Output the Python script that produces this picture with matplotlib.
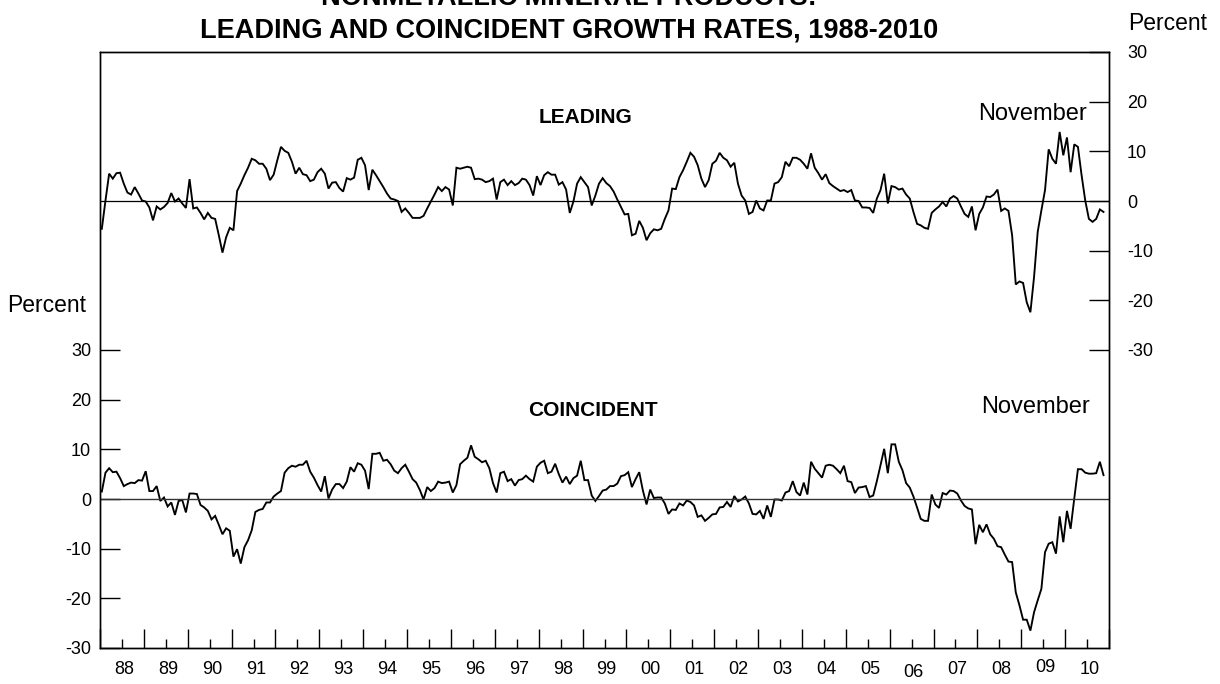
import matplotlib
matplotlib.use("Agg")
import matplotlib.pyplot as plt
import matplotlib.transforms as mtransforms
import numpy as np

plt.rcParams['font.family'] = ['Liberation Sans', 'DejaVu Sans']

# ---- data: monthly growth rates, Jan 1988 - Nov 2010 ----
start_year = 1988
leading = [
    -5.6, 0.1, 5.5, 4.5, 5.6, 5.7, 3.5, 1.7, 1.3, 2.8, 1.5, 0.1,          # 1988
    -0.1, -1.3, -3.9, -1.1, -1.7, -1.2, -0.4, 1.6, -0.1, 0.5, -0.5, -1.4,  # 1989
    4.4, -1.5, -1.3, -2.4, -3.7, -2.4, -3.4, -3.6, -6.9, -10.4, -7.3, -5.4,  # 1990
    -5.9, 2.0, 3.5, 5.2, 6.7, 8.5, 8.2, 7.5, 7.5, 6.5, 4.2, 5.3,          # 1991
    8.2, 10.9, 10.1, 9.7, 7.9, 5.5, 6.7, 5.4, 5.2, 4.0, 4.3, 5.8,         # 1992
    6.5, 5.5, 2.5, 3.7, 3.8, 2.6, 1.9, 4.6, 4.3, 4.7, 8.3, 8.7,           # 1993
    7.2, 2.2, 6.3, 5.2, 4.0, 2.8, 1.5, 0.5, 0.3, 0.0, -2.2, -1.5,         # 1994
    -2.4, -3.4, -3.4, -3.4, -3.0, -1.5, -0.1, 1.3, 2.8, 2.0, 2.8, 2.3,    # 1995
    -0.9, 6.7, 6.5, 6.7, 6.9, 6.7, 4.4, 4.5, 4.3, 3.8, 4.0, 4.5,          # 1996
    0.3, 3.8, 4.3, 3.2, 4.0, 3.2, 3.6, 4.5, 4.3, 3.2, 1.1, 5.0,           # 1997
    3.2, 5.2, 5.8, 5.3, 5.3, 3.3, 3.8, 2.3, -2.4, -0.1, 3.5, 4.8,         # 1998
    3.8, 2.8, -0.9, 1.1, 3.5, 4.6, 3.6, 3.0, 1.9, 0.3, -1.2, -2.7,        # 1999
    -2.6, -6.9, -6.6, -4.0, -5.4, -7.9, -6.5, -5.7, -5.9, -5.6, -3.6, -1.9,  # 2000
    2.5, 2.4, 4.8, 6.2, 7.9, 9.7, 8.9, 7.2, 4.5, 2.8, 4.2, 7.5,           # 2001
    8.1, 9.7, 8.7, 8.2, 6.9, 7.7, 3.5, 1.1, 0.1, -2.6, -2.2, 0.1,         # 2002
    -1.5, -1.9, 0.1, 0.1, 3.5, 3.8, 4.8, 7.9, 7.0, 8.7, 8.7, 8.3,         # 2003
    7.5, 6.5, 9.6, 6.7, 5.6, 4.3, 5.4, 3.6, 3.0, 2.5, 2.0, 2.2,           # 2004
    1.8, 2.2, 0.1, 0.0, -1.3, -1.3, -1.4, -2.4, 0.5, 2.2, 5.5, -0.5,      # 2005
    3.0, 2.8, 2.3, 2.5, 1.3, 0.5, -2.2, -4.6, -4.9, -5.4, -5.6, -2.4,     # 2006
    -1.7, -1.1, -0.2, -1.1, 0.5, 1.0, 0.5, -1.1, -2.6, -3.2, -1.1, -5.9,  # 2007
    -2.6, -1.3, 0.9, 0.8, 1.3, 2.3, -2.0, -1.5, -2.0, -6.9, -16.8, -16.2,  # 2008
    -16.5, -20.4, -22.4, -15.3, -6.2, -1.9, 2.2, 10.4, 8.5, 7.5, 13.9, 9.2,  # 2009
    12.8, 5.8, 11.4, 10.9, 5.2, 0.1, -3.6, -4.2, -3.6, -1.7, -2.2,        # 2010
]
coincident = [
    1.5, 5.3, 6.2, 5.4, 5.5, 4.2, 2.6, 3.0, 3.3, 3.2, 3.8, 3.7,           # 1988
    5.6, 1.6, 1.6, 2.6, -0.4, 0.3, -1.5, -0.7, -3.2, -0.4, -0.2, -2.7,    # 1989
    1.1, 1.1, 1.0, -1.2, -1.7, -2.4, -4.1, -3.4, -5.2, -7.1, -5.9, -6.4,  # 1990
    -11.6, -10.1, -13.0, -9.7, -8.3, -6.3, -2.6, -2.2, -2.0, -0.7, -0.7, 0.5,  # 1991
    1.1, 1.6, 5.3, 6.2, 6.7, 6.5, 6.9, 6.9, 7.7, 5.5, 4.3, 2.8,           # 1992
    1.5, 4.6, 0.1, 1.9, 3.0, 3.0, 2.2, 3.5, 6.4, 5.5, 7.2, 6.9,           # 1993
    5.7, 2.0, 9.1, 9.1, 9.3, 7.7, 7.9, 7.0, 5.7, 5.2, 6.2, 6.9,           # 1994
    5.5, 4.0, 3.3, 1.8, -0.1, 2.4, 1.6, 2.2, 3.5, 3.2, 3.3, 3.5,          # 1995
    1.3, 2.8, 7.0, 7.7, 8.3, 10.8, 8.5, 8.0, 7.4, 7.7, 6.2, 3.2,          # 1996
    1.3, 5.2, 5.5, 3.6, 4.0, 2.7, 3.8, 4.0, 4.7, 4.0, 3.5, 6.5,           # 1997
    7.3, 7.7, 5.2, 5.5, 7.1, 5.0, 3.3, 4.5, 3.0, 4.2, 4.7, 7.7,           # 1998
    3.8, 3.8, 0.7, -0.4, 0.6, 1.7, 1.9, 2.6, 2.6, 3.1, 4.6, 4.8,          # 1999
    5.4, 2.4, 4.0, 5.4, 1.7, -1.1, 1.9, 0.2, 0.3, 0.3, -0.9, -3.0,        # 2000
    -2.1, -2.2, -0.9, -1.3, -0.3, -0.6, -1.3, -3.6, -3.3, -4.4, -3.8, -3.1,  # 2001
    -3.0, -1.7, -1.6, -0.6, -1.6, 0.6, -0.5, -0.1, 0.5, -0.9, -3.0, -3.1,  # 2002
    -2.4, -4.0, -1.3, -3.6, -0.1, -0.1, -0.3, 1.3, 1.6, 3.6, 1.4, 0.7,    # 2003
    3.3, 0.9, 7.5, 6.1, 5.2, 4.3, 6.7, 6.9, 6.7, 6.0, 5.2, 6.7,           # 2004
    3.6, 3.4, 1.2, 2.3, 2.4, 2.6, 0.4, 0.7, 3.6, 6.8, 10.1, 5.2,          # 2005
    11.0, 11.0, 7.5, 5.8, 3.2, 2.3, 0.5, -1.7, -4.0, -4.4, -4.4, 0.9,     # 2006
    -1.1, -1.8, 1.2, 0.9, 1.7, 1.6, 1.1, -0.3, -1.4, -1.9, -2.1, -9.1,    # 2007
    -5.2, -6.7, -5.1, -7.1, -8.0, -9.5, -9.7, -11.2, -12.6, -12.7, -18.8, -21.4,  # 2008
    -24.3, -24.3, -26.5, -22.8, -20.4, -18.1, -10.7, -9.0, -8.7, -11.0, -3.5, -8.7,  # 2009
    -2.4, -6.0, 0.1, 6.0, 6.0, 5.3, 5.1, 5.1, 5.2, 7.5, 4.8,              # 2010
]
year_labels = ['88', '89', '90', '91', '92', '93', '94', '95', '96', '97', '98', '99',
               '00', '01', '02', '03', '04', '05', '06', '07', '08', '09', '10']
left_ticks = [-30, -20, -10, 0, 10, 20, 30]
right_ticks = [-30, -20, -10, 0, 10, 20, 30]

t_lead = start_year + (np.arange(len(leading)) + 0.5) / 12.0
t_coin = start_year + (np.arange(len(coincident)) + 0.5) / 12.0

W, H = 1220, 684
fig = plt.figure(figsize=(W / 100, H / 100), dpi=100)
ax = fig.add_axes([100 / W, 1 - 648 / H, 1009 / W, 596 / H])
ax2 = ax.twinx()

# coincident on left axis
ax.plot(t_coin, coincident, color='black', lw=1.35, solid_joinstyle='miter')
ax.axhline(0, color='#333333', lw=1.0)
ax.set_ylim(-30, 90)
ax.set_yticks(left_ticks)
ax.set_yticklabels([str(v) for v in left_ticks])
ax.tick_params(axis='y', which='both', direction='in', length=14.4, width=1.0,
               pad=6.5, labelsize=13, left=True, right=False)

# leading on right axis
ax2.plot(t_lead, leading, color='black', lw=1.35, solid_joinstyle='miter')
ax2.axhline(0, color='black', lw=0.9)
ax2.set_ylim(-90, 30)
ax2.set_yticks(right_ticks)
ax2.set_yticklabels([str(v) for v in right_ticks])
ax2.tick_params(axis='y', which='both', direction='in', length=14.4, width=1.0,
                pad=13, labelsize=13, left=False, right=True)

# x axis
n_years = len(year_labels)
ax.set_xlim(start_year, start_year + n_years)
ax.set_xticks(np.arange(start_year, start_year + n_years + 1))
ax.set_xticks(np.arange(start_year, start_year + n_years) + 0.5, minor=True)
ax.tick_params(axis='x', which='major', direction='in', length=13.7, width=1.0,
               labelbottom=False, top=False)
ax.tick_params(axis='x', which='minor', direction='in', length=6.5, width=1.0,
               labelbottom=False, top=False)

for a in (ax, ax2):
    for s in a.spines.values():
        s.set_linewidth(1.0)
        s.set_color('black')

# year labels under the axis
trans = mtransforms.blended_transform_factory(ax.transData, fig.transFigure)
offsets = {'06': 3.5, '09': -2.0}
for k, lab in enumerate(year_labels):
    base = 673.5 + offsets.get(lab, 0.0)
    ax.text(start_year + k + 0.55, 1 - base / H, lab, transform=trans,
            ha='center', va='baseline', fontsize=13)

# titles
fig.text(569 / W, 1 - 5 / H, 'NONMETALLIC MINERAL PRODUCTS:', ha='center',
         va='baseline', fontsize=19.5, weight='bold')
fig.text(569 / W, 1 - 37 / H, 'LEADING AND COINCIDENT GROWTH RATES, 1988-2010',
         ha='center', va='baseline', fontsize=19.5, weight='bold')

# annotations
fig.text(586 / W, 1 - 123 / H, 'LEADING', ha='center', va='baseline',
         fontsize=15, weight='bold')
fig.text(592.5 / W, 1 - 416 / H, 'COINCIDENT', ha='center', va='baseline',
         fontsize=15, weight='bold')
fig.text(1087 / W, 1 - 120 / H, 'November', ha='right', va='baseline', fontsize=17)
fig.text(1090 / W, 1 - 413 / H, 'November', ha='right', va='baseline', fontsize=17)
fig.text(7 / W, 1 - 312.5 / H, 'Percent', ha='left', va='baseline', fontsize=16.5)
fig.text(1128 / W, 1 - 30 / H, 'Percent', ha='left', va='baseline', fontsize=16.5)

fig.savefig('out.png', dpi=100)
